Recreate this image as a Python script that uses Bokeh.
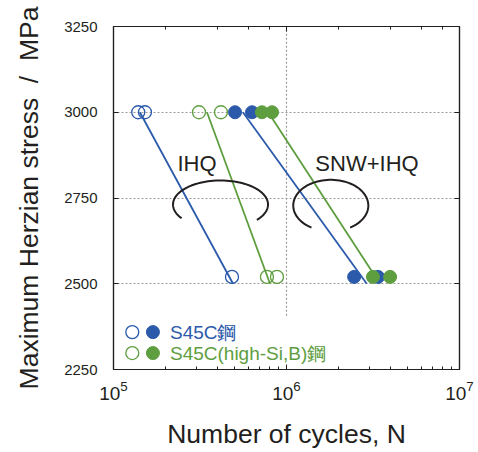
import numpy as np
from bokeh.plotting import figure
from bokeh.models import LogAxis, LinearAxis, FixedTicker, Range1d, LogTicker
from bokeh.embed import file_html
from bokeh.resources import INLINE
from bokeh.core.properties import value

BLUE = "#2B5AAB"
GREEN = "#5E9E3F"
INK = "#231F20"
FONT = "Liberation Sans"

# ---- axes ----
y_ticks = [2250, 2500, 2750, 3000, 3250]
y_grid = [2500, 2750, 3000]
x_min, x_max = 1e5, 1e7
x_title = "Number of cycles, N"
y_title = "Maximum Herzian stress \u00a0/\u00a0 MPa"

# ---- data: S45C steel (blue) ----
s45c_open_N = [1.39e5, 1.52e5, 4.84e5]          # IHQ
s45c_open_S = [3000, 3000, 2520]
s45c_fill_N = [5.04e5, 6.32e5, 2.46e6, 3.38e6]  # SNW+IHQ
s45c_fill_S = [3000, 3000, 2520, 2520]

# ---- data: S45C(high-Si,B) steel (green) ----
hsi_open_N = [3.12e5, 4.18e5, 7.71e5, 8.81e5]   # IHQ
hsi_open_S = [3000, 3000, 2520, 2520]
hsi_fill_N = [7.21e5, 8.25e5, 3.16e6, 3.97e6]   # SNW+IHQ
hsi_fill_S = [3000, 3000, 2520, 2520]

# ---- S-N lines ----
line_S = [3000, 2500]
s45c_ihq_line_N = [1.42e5, 4.91e5]
s45c_snw_line_N = [5.6e5, 2.91e6]
hsi_ihq_line_N = [3.47e5, 8.03e5]
hsi_snw_line_N = [7.84e5, 3.47e6]

# ---- group annotations: (label, label N, label S, centre N, rx decades, centre S, ry MPa, start deg, end deg)
groups = [
    ("IHQ", 3.04e5, 2850, 4.155e5, 0.2746, 2731, 70, -40, 215),
    ("SNW+IHQ", 2.92e6, 2850, 1.803e6, 0.217, 2728, 75, -59, 239),
]

# ---- legend ----
legend_labels = ["S45C鋼", "S45C(high-Si,B)鋼"]
legend_colors = [BLUE, GREEN]
legend_S = [2359, 2298]
legend_open_N = 1.284e5
legend_fill_N = 1.69e5
legend_text_N = 2.12e5

p = figure(width=478, height=452, x_axis_type="log",
           x_range=Range1d(x_min, x_max), y_range=Range1d(2250, 3250),
           output_backend="svg", toolbar_location=None,
           min_border_left=113, min_border_right=19, min_border_top=26,
           min_border_bottom=83)
p.background_fill_color = "white"
p.border_fill_color = "white"
p.outline_line_color = INK
p.outline_line_width = 1.2

# grid
p.xgrid.visible = False
p.ygrid.ticker = FixedTicker(ticks=y_grid)
p.ygrid.grid_line_color = "#9a9a9a"
p.ygrid.grid_line_dash = "2 2"
p.ygrid.grid_line_width = 1.2
p.line([1e6, 1e6], [2407, 3250], line_color="#9a9a9a", line_dash="2 2", line_width=1.2)

# axes
def style_axis(ax):
    ax.axis_line_color = INK
    ax.axis_line_width = 1.2
    ax.major_tick_in = 5
    ax.major_tick_out = 0
    ax.minor_tick_in = 3
    ax.minor_tick_out = 0
    ax.major_tick_line_color = INK
    ax.minor_tick_line_color = INK
    ax.major_label_text_font = FONT
    ax.major_label_text_color = INK
    ax.axis_label_text_font = FONT
    ax.axis_label_text_color = INK
    ax.axis_label_text_font_style = "normal"

xa = p.xaxis[0]
style_axis(xa)
xa.major_label_text_font_size = "19px"
xa.major_label_standoff = 11
xa.axis_label = x_title
xa.axis_label_text_font_size = "26.5px"
xa.axis_label_standoff = 16

ya = p.yaxis[0]
style_axis(ya)
ya.ticker = FixedTicker(ticks=y_ticks)
ya.minor_tick_line_color = None
ya.major_label_text_font_size = "15px"
ya.major_label_standoff = 16
ya.axis_label = y_title
ya.axis_label_text_font_size = "26.5px"
ya.axis_label_standoff = 17

top = LogAxis(ticker=LogTicker())
style_axis(top)
top.major_label_text_font_size = "1px"
top.major_label_text_color = None
top.major_label_standoff = 0
p.add_layout(top, "above")

right = LinearAxis(ticker=FixedTicker(ticks=y_ticks))
style_axis(right)
right.minor_tick_line_color = None
right.major_label_text_font_size = "1px"
right.major_label_text_color = None
right.major_label_standoff = 0
p.add_layout(right, "right")

# S-N lines
for n, c in [(s45c_ihq_line_N, BLUE), (s45c_snw_line_N, BLUE),
             (hsi_ihq_line_N, GREEN), (hsi_snw_line_N, GREEN)]:
    p.line(n, line_S, line_color=c, line_width=1.8)

# markers
R = 13
p.scatter(s45c_open_N, s45c_open_S, size=R, fill_color=None, line_color=BLUE, line_width=1.3)
p.scatter(s45c_fill_N, s45c_fill_S, size=R, fill_color=BLUE, line_color=BLUE, line_width=1)
p.scatter(hsi_open_N, hsi_open_S, size=R, fill_color=None, line_color=GREEN, line_width=1.3)
p.scatter(hsi_fill_N, hsi_fill_S, size=R, fill_color=GREEN, line_color=GREEN, line_width=1)

# group arcs and labels
for lab, lx, ly, cx, rx, cy, ry, a0, a1 in groups:
    t = np.radians(np.linspace(a0, a1, 80))
    ax_ = 10 ** (np.log10(cx) + rx * np.cos(t))
    ay_ = cy + ry * np.sin(t)
    p.line(ax_, ay_, line_color=INK, line_width=2)
    p.text([lx], [ly], text=[lab], text_font=value(FONT), text_font_size="22px",
           text_color=INK, text_align="center", text_baseline="middle")

# legend
for lab, col, s in zip(legend_labels, legend_colors, legend_S):
    p.scatter([legend_open_N], [s], size=R, fill_color=None, line_color=col, line_width=1.3)
    p.scatter([legend_fill_N], [s], size=R, fill_color=col, line_color=col, line_width=1)
    p.text([legend_text_N], [s], text=[lab], text_font=value(FONT), text_font_size="19px",
           text_color=col, text_align="left", text_baseline="middle")

open("out.html", "w").write(file_html(p, INLINE))
